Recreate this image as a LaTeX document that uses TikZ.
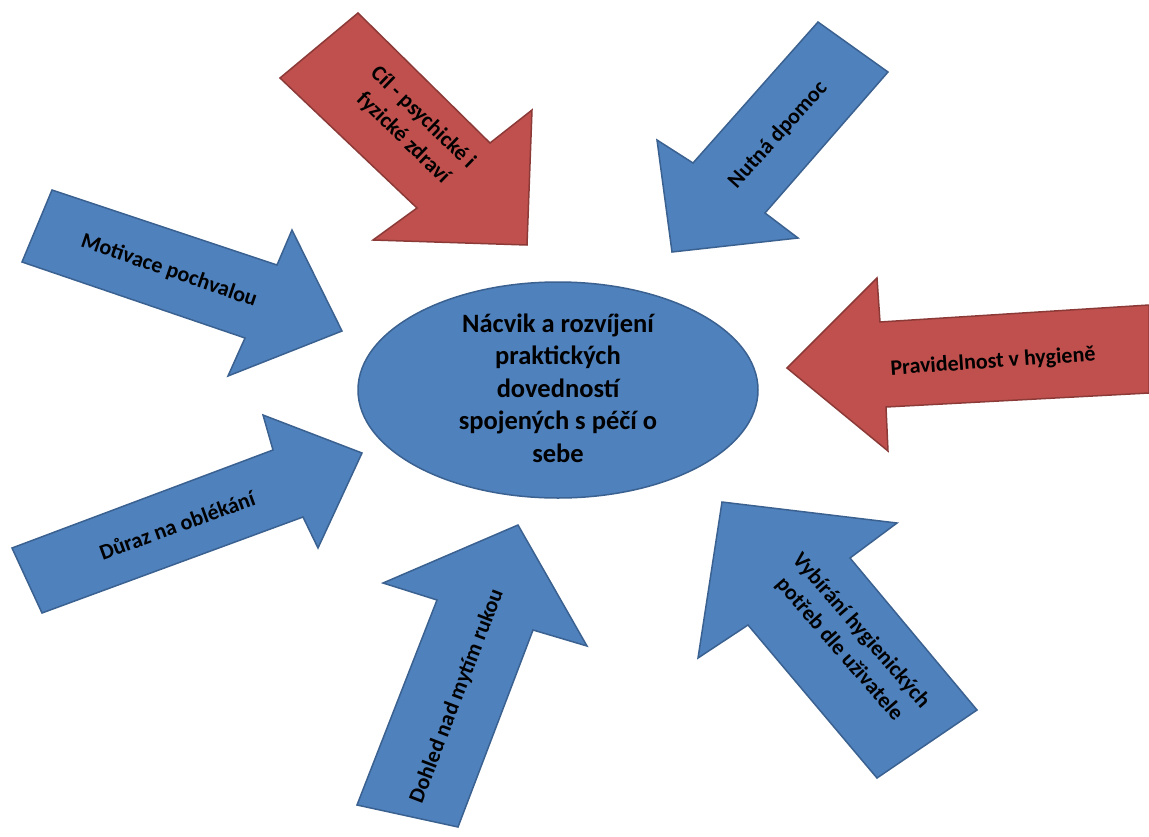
\documentclass[tikz,border=0pt]{standalone}
\usepackage{fontspec}
\setmainfont{Carlito}
\usetikzlibrary{shapes.geometric}
\definecolor{bluefill}{HTML}{4F81BD}
\definecolor{blueline}{HTML}{3A6190}
\definecolor{redfill}{HTML}{C0504D}
\definecolor{redline}{HTML}{8C3A38}
\tikzset{
  bluearrow/.style={fill=bluefill,draw=blueline,line width=1.5pt,line join=miter},
  redarrow/.style={fill=redfill,draw=redline,line width=1.5pt,line join=miter},
  arrowtext/.style={font=\bfseries\fontsize{22}{28.5}\selectfont,align=center,text=black,inner sep=0pt},
  centertext/.style={font=\bfseries\fontsize{26.5}{32.5}\selectfont,align=center,text=black},
}
\begin{document}
\begin{tikzpicture}[x=1pt,y=-1pt]
\useasboundingbox (0,0) rectangle (1149,836);
% arrows
\draw[redarrow] (358,13) -- (490,143) -- (532,110) -- (527,245) -- (373,240) -- (417,208) -- (280,78) -- cycle;
\draw[bluearrow] (818,22) -- (888,72) -- (765,213) -- (798,238) -- (672,252) -- (657,140) -- (693,163) -- cycle;
\draw[bluearrow] (52,190) -- (277,265) -- (292,230) -- (342,331) -- (228,376) -- (245,338) -- (22,262) -- cycle;
\draw[redarrow] (787,368) -- (877,278) -- (880,322) -- (1149,305) -- (1149,393) -- (886,407) -- (888,451) -- cycle;
\draw[bluearrow] (12,548) -- (273,450) -- (263,415) -- (362,453) -- (318,548) -- (303,517) -- (42,613) -- cycle;
\draw[bluearrow] (518,525) -- (587,646) -- (533,630) -- (458,827) -- (357,805) -- (437,600) -- (383,583) -- cycle;
\draw[bluearrow] (722,502) -- (897,523) -- (850,558) -- (977,710) -- (877,778) -- (748,625) -- (698,658) -- cycle;
% center
\node[ellipse,fill=bluefill,draw=blueline,line width=1.5pt,minimum width=400pt,minimum height=216pt,inner sep=0pt] (center) at (558,390) {};
\node[centertext] (ctext) at (558,388) {Nácvik a rozvíjení\\praktických\\dovedností\\spojených s péčí o\\sebe};
% labels
\node[arrowtext,rotate=-44] (l1) at (413,128) {Cíl - psychické i\\fyzické zdraví};
\node[arrowtext,rotate=48] (l2) at (778,135) {Nutná dpomoc};
\node[arrowtext,rotate=-19] (l3) at (169,271) {Motivace pochvalou};
\node[arrowtext,rotate=4] (l4) at (993,362) {Pravidelnost v hygieně};
\node[arrowtext,rotate=20] (l5) at (177,525) {Důraz na oblékání};
\node[arrowtext,rotate=69] (l6) at (457,696) {Dohled nad mytím rukou};
\node[arrowtext,rotate=-49] (l7) at (850,640) {Vybírání hygienických\\potřeb dle uživatele};
\end{tikzpicture}
\end{document}
